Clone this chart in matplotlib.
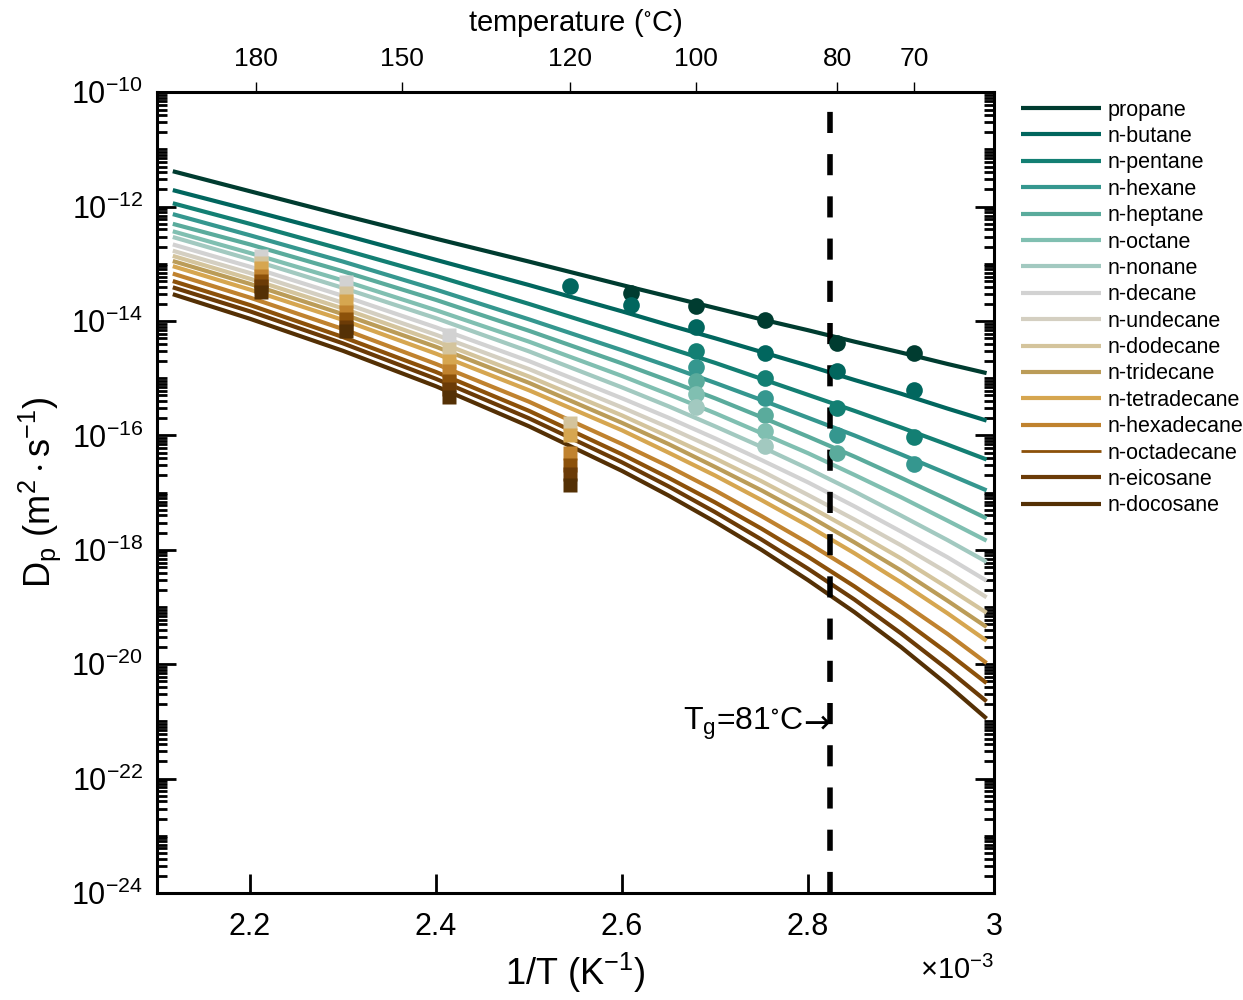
import numpy as np
import matplotlib
matplotlib.use("Agg")
import matplotlib.pyplot as plt
from matplotlib.ticker import LogLocator, NullFormatter, FixedLocator

plt.rcParams['font.family'] = ['Liberation Sans', 'DejaVu Sans']
plt.rcParams['mathtext.fontset'] = 'custom'
plt.rcParams['mathtext.rm'] = 'Liberation Sans'
plt.rcParams['mathtext.it'] = 'Liberation Sans:italic'

# ---- data (x: 1/T in 1e-3 K^-1, y: log10 of D_p) ----
names = ['propane', 'n-butane', 'n-pentane', 'n-hexane', 'n-heptane', 'n-octane',
         'n-nonane', 'n-decane', 'n-undecane', 'n-dodecane', 'n-tridecane',
         'n-tetradecane', 'n-hexadecane', 'n-octadecane', 'n-eicosane', 'n-docosane']
colors = ['#003c30', '#01665e', '#137f73', '#35978f', '#5aab9c', '#80bfb1',
          '#a2c9c0', '#d2d2d2', '#d4cfc1', '#d4c49c', '#bb9c58',
          '#d6a650', '#c0822e', '#8c510a', '#6b3b07', '#543005']

x_curve = [2.117, 2.2, 2.3, 2.4, 2.5, 2.6, 2.65, 2.7, 2.75, 2.8, 2.85, 2.9, 2.95, 2.992]
logD_propane = [-11.38, -11.73, -12.15, -12.56, -12.96, -13.37, -13.57, -13.77, -13.97, -14.16, -14.36, -14.55, -14.75, -14.91]
logD_butane = [-11.71, -12.06, -12.49, -12.93, -13.37, -13.83, -14.07, -14.30, -14.54, -14.78, -15.03, -15.27, -15.53, -15.74]
logD_pentane = [-11.94, -12.30, -12.75, -13.21, -13.70, -14.21, -14.47, -14.73, -15.01, -15.29, -15.57, -15.86, -16.16, -16.42]
logD_hexane = [-12.13, -12.50, -12.96, -13.45, -13.97, -14.51, -14.79, -15.08, -15.38, -15.69, -16.00, -16.33, -16.67, -16.96]
logD_heptane = [-12.30, -12.66, -13.13, -13.63, -14.17, -14.74, -15.04, -15.35, -15.68, -16.02, -16.37, -16.74, -17.12, -17.45]
logD_octane = [-12.43, -12.81, -13.29, -13.81, -14.36, -14.96, -15.28, -15.61, -15.96, -16.31, -16.69, -17.08, -17.49, -17.84]
logD_nonane = [-12.53, -12.92, -13.42, -13.95, -14.53, -15.16, -15.49, -15.84, -16.20, -16.58, -16.98, -17.40, -17.83, -18.21]
logD_decane = [-12.66, -13.05, -13.56, -14.11, -14.70, -15.35, -15.69, -16.05, -16.43, -16.82, -17.24, -17.68, -18.13, -18.54]
logD_undecane = [-12.77, -13.16, -13.68, -14.24, -14.84, -15.51, -15.86, -16.23, -16.62, -17.04, -17.47, -17.92, -18.40, -18.83]
logD_dodecane = [-12.86, -13.26, -13.78, -14.35, -14.97, -15.65, -16.02, -16.40, -16.80, -17.23, -17.68, -18.15, -18.66, -19.10]
logD_tridecane = [-12.95, -13.35, -13.88, -14.45, -15.08, -15.78, -16.15, -16.55, -16.96, -17.40, -17.87, -18.36, -18.89, -19.35]
logD_tetradecane = [-13.04, -13.45, -13.98, -14.57, -15.21, -15.91, -16.30, -16.70, -17.13, -17.58, -18.06, -18.57, -19.11, -19.59]
logD_hexadecane = [-13.17, -13.59, -14.14, -14.75, -15.41, -16.15, -16.54, -16.96, -17.41, -17.88, -18.38, -18.91, -19.47, -19.98]
logD_octadecane = [-13.30, -13.72, -14.28, -14.89, -15.57, -16.33, -16.74, -17.17, -17.63, -18.12, -18.64, -19.20, -19.80, -20.33]
logD_eicosane = [-13.41, -13.83, -14.39, -15.01, -15.70, -16.47, -16.89, -17.34, -17.82, -18.33, -18.87, -19.46, -20.09, -20.65]
logD_docosane = [-13.53, -13.96, -14.52, -15.14, -15.84, -16.62, -17.05, -17.51, -18.00, -18.53, -19.09, -19.70, -20.36, -20.95]
logD_curve = [logD_propane, logD_butane, logD_pentane, logD_hexane, logD_heptane,
              logD_octane, logD_nonane, logD_decane, logD_undecane, logD_dodecane,
              logD_tridecane, logD_tetradecane, logD_hexadecane, logD_octadecane,
              logD_eicosane, logD_docosane]

# circles (temperature in degC)
circ_name = ['propane'] * 5 + ['n-butane'] * 6 + ['n-pentane'] * 4 + ['n-hexane'] * 4 \
    + ['n-heptane'] * 3 + ['n-octane'] * 2 + ['n-nonane'] * 2
circ_T = [110, 100, 90, 80, 70,
          120, 110, 100, 90, 80, 70,
          100, 90, 80, 70,
          100, 90, 80, 70,
          100, 90, 80,
          100, 90,
          100, 90]
circ_logD = [-13.51, -13.74, -13.99, -14.38, -14.56,
             -13.39, -13.72, -14.10, -14.55, -14.87, -15.21,
             -14.52, -15.00, -15.52, -16.03,
             -14.81, -15.35, -16.00, -16.50,
             -15.05, -15.65, -16.31,
             -15.27, -15.93,
             -15.51, -16.18]

# squares (stacks of heavier alkanes)
sq_x = [2.212, 2.303, 2.4145, 2.544]
sq_name = ['n-decane', 'n-dodecane', 'n-tetradecane', 'n-hexadecane',
           'n-octadecane', 'n-eicosane', 'n-docosane']
sq_logD = [
    [-12.86, -12.98, -13.07, -13.21, -13.30, -13.39, -13.49],
    [-13.32, -13.51, -13.65, -13.84, -13.96, -14.10, -14.17],
    [-14.24, -14.48, -14.69, -14.87, -15.04, -15.18, -15.32],
    [None, -15.79, -16.00, -16.31, -16.51, -16.68, -16.86],
]

top_T = [180, 150, 120, 100, 80, 70]
Tg = 81

# ---- figure ----
fig = plt.figure(figsize=(12.43, 10), dpi=100)
ax = fig.add_axes([0.1263, 0.107, 0.6734, 0.8007])

lines = []
for nm, c, ld in zip(names, colors, logD_curve):
    ln, = ax.plot(x_curve, 10.0 ** np.array(ld), color=c, lw=3, label=nm,
                  solid_capstyle='butt', zorder=2)
    lines.append(ln)

x_tg = 1000.0 / (Tg + 273.15)
ax.axvline(x_tg, color='k', lw=4, dashes=(3.8, 3.8), zorder=3)

col = dict(zip(names, colors))
for nm, T, ld in zip(circ_name, circ_T, circ_logD):
    ax.plot(1000.0 / (T + 273.15), 10.0 ** ld, 'o', ms=12, color=col[nm],
            mec='none', zorder=4)

for x, row in zip(sq_x, sq_logD):
    for nm, ld in zip(sq_name, row):
        if ld is None:
            continue
        ax.plot(x, 10.0 ** ld, 's', ms=9.4, color=col[nm], mec='none', zorder=4)

ax.set_yscale('log')
ax.set_xlim(2.1, 3.0)
ax.set_ylim(1e-24, 1e-10)
ax.set_yticks([10.0 ** e for e in range(-24, -9, 2)])
ax.set_yticklabels([r'$\mathregular{10^{%d}}$' % e for e in range(-24, -9, 2)])
ax.yaxis.set_minor_locator(LogLocator(base=10, subs=np.arange(1, 10), numticks=50))
ax.yaxis.set_minor_formatter(NullFormatter())
ax.set_xticks([2.2, 2.4, 2.6, 2.8, 3.0])
ax.set_xticklabels(['2.2', '2.4', '2.6', '2.8', '3'])

ax.tick_params(axis='both', which='major', direction='in', length=14, width=2,
               labelsize=22, top=True, right=True, pad=10)
ax.tick_params(axis='y', which='minor', direction='in', length=7, width=2,
               right=True, left=True)
ax.tick_params(axis='x', which='major', pad=14)
for s in ax.spines.values():
    s.set_linewidth(2.2)

ax.set_xlabel(r'1/T (K$\mathregular{^{-1}}$)', fontsize=26, labelpad=6)
ax.set_ylabel(r'$\mathregular{D_p\ (m^2\cdot s^{-1})}$', fontsize=26, labelpad=6)
ax.text(1.0, -0.078, r'$\mathregular{\times10^{-3}}$', transform=ax.transAxes,
        ha='right', va='top', fontsize=21)

# Tg annotation: arrow glyph right at the dashed line, label just left of it
y_tg = 10.0 ** -21.05
arrow = ax.text(x_tg, y_tg, '→', family='DejaVu Sans', ha='right', va='center',
                fontsize=23, zorder=5)
fig.canvas.draw()
w_arrow = arrow.get_window_extent().width * 72.0 / fig.dpi
ax.annotate(r'$\mathregular{T_g}$=81$\mathregular{^{\circ}}$C', xy=(x_tg, y_tg),
            xytext=(-w_arrow, 0), textcoords='offset points',
            ha='right', va='center', fontsize=23, zorder=5)

# top temperature axis
ax2 = ax.twiny()
ax2.set_xlim(ax.get_xlim())
ax2.xaxis.set_major_locator(FixedLocator([1000.0 / (t + 273.15) for t in top_T]))
ax2.set_xticklabels([str(t) for t in top_T])
ax2.tick_params(axis='x', direction='out', length=7, width=1, labelsize=19, pad=8)
ax2.set_xlabel(r'temperature ($\mathregular{^{\circ}}$C)', fontsize=21, labelpad=12)
for s in ax2.spines.values():
    s.set_visible(False)

leg = fig.legend(handles=lines, loc='upper left', bbox_to_anchor=(0.8145, 0.909),
                 frameon=False, fontsize=15.5, handlelength=3.7, handletextpad=0.3,
                 labelspacing=0.25, borderaxespad=0)
leg.legend_handles[13].set_linewidth(2)

fig.savefig('out.png', dpi=100)
